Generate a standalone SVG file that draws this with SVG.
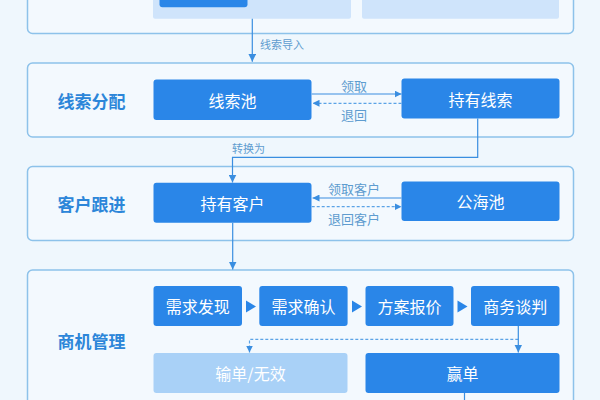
<svg xmlns="http://www.w3.org/2000/svg" width="600" height="400" viewBox="0 0 600 400">
<defs>
<marker id="ah" viewBox="0 0 8 8" refX="8" refY="4" markerWidth="8" markerHeight="8" markerUnits="userSpaceOnUse" orient="auto">
<path d="M0,0 L8,4 L0,8 Z" fill="#3A8EE0"/>
</marker>
<marker id="ahs" viewBox="0 0 8 8" refX="8" refY="4" markerWidth="7" markerHeight="7" markerUnits="userSpaceOnUse" orient="auto">
<path d="M0,0 L8,4 L0,8 Z" fill="#3A8EE0"/>
</marker>
<style>
.sec{fill:#F3F9FE;stroke:#8DC2EA;stroke-width:1.5}
.box{fill:#2A86E8}
.lite{fill:#CFE4FB}
.lose{fill:#A9D1F7}
.t{font-family:"Noto Sans CJK SC","Noto Sans",sans-serif;font-size:16px;fill:#FFFFFF;text-anchor:middle;dominant-baseline:central}
.title{font-family:"Noto Sans CJK SC","Noto Sans",sans-serif;font-size:17px;font-weight:bold;fill:#2C86D9;text-anchor:middle;dominant-baseline:central}
.lbl{font-family:"Noto Sans CJK SC","Noto Sans",sans-serif;font-size:11px;fill:#5E9CCF;text-anchor:middle;dominant-baseline:central}
.lbl2{font-family:"Noto Sans CJK SC","Noto Sans",sans-serif;font-size:13px;fill:#5E9CCF;text-anchor:middle;dominant-baseline:central}
.c{fill:none;stroke:#3A8EE0;stroke-width:1.2}
.d{fill:none;stroke:#5BA3E6;stroke-width:1.2;stroke-dasharray:3 2}
.tri{fill:#2A86E8}
</style>
</defs>
<rect width="600" height="400" fill="#EFF7FD"/>

<g id="top-section">
<rect class="sec" x="27.5" y="-20" width="546" height="53.5" rx="5"/>
<rect class="lite" x="153" y="-10" width="198" height="28.7" rx="2"/>
<rect class="lite" x="362" y="-10" width="197" height="28.7" rx="2"/>
<rect class="box" x="159.5" y="-10" width="88" height="17.3" rx="3"/>
</g>

<g id="sec-clue">
<rect class="sec" x="27.5" y="63" width="546" height="74" rx="5"/>
<text class="title" x="91.5" y="100">线索分配</text>
</g>
<g id="sec-customer">
<rect class="sec" x="27.5" y="166.5" width="546" height="74" rx="5"/>
<text class="title" x="91.5" y="203">客户跟进</text>
</g>
<g id="sec-opportunity">
<rect class="sec" x="27.5" y="270" width="546" height="150" rx="5"/>
<text class="title" x="91.5" y="340">商机管理</text>
</g>

<g id="n-xiansuochi"><rect class="box" x="153.5" y="79.5" width="158" height="40.5" rx="3"/><text class="t" x="232.5" y="100">线索池</text></g>
<g id="n-chiyouxiansuo"><rect class="box" x="401.5" y="78.5" width="158" height="40" rx="3"/><text class="t" x="480.5" y="98.5">持有线索</text></g>
<g id="n-chiyoukehu"><rect class="box" x="153.5" y="182.7" width="158" height="40" rx="3"/><text class="t" x="232.5" y="202.7">持有客户</text></g>
<g id="n-gonghaichi"><rect class="box" x="401.5" y="181.5" width="158" height="39.5" rx="3"/><text class="t" x="480.5" y="201.2">公海池</text></g>

<g id="n-xuqiufaxian"><rect class="box" x="153.5" y="286" width="88.5" height="40" rx="3"/><text class="t" x="197.7" y="306">需求发现</text></g>
<g id="n-xuqiuqueren"><rect class="box" x="259.3" y="286" width="88.3" height="40" rx="3"/><text class="t" x="303.5" y="306">需求确认</text></g>
<g id="n-fanganbaojia"><rect class="box" x="365.5" y="286" width="88" height="40" rx="3"/><text class="t" x="409.5" y="306">方案报价</text></g>
<g id="n-shangwutanpan"><rect class="box" x="471" y="286" width="88.5" height="40" rx="3"/><text class="t" x="515.2" y="306">商务谈判</text></g>
<g id="n-shudan"><rect class="lose" x="153.5" y="353" width="194" height="40" rx="3"/><text class="t" x="250.5" y="373">输单/无效</text></g>
<g id="n-yingdan"><rect class="box" x="365.5" y="353" width="194" height="40" rx="3"/><text class="t" x="462.5" y="373">赢单</text></g>

<g id="connectors">
<path class="c" d="M252.3,18.7 V61.7" marker-end="url(#ah)"/>
<text class="lbl" x="282" y="44">线索导入</text>

<path class="c" d="M311.7,94 H401.5" marker-end="url(#ahs)"/>
<text class="lbl2" x="354" y="85">领取</text>
<path class="d" d="M401.5,103.3 H312.5" marker-end="url(#ahs)"/>
<text class="lbl2" x="354" y="114">退回</text>

<path class="c" d="M477.7,118.5 V157.3 H232.5 V182.5" marker-end="url(#ah)"/>
<text class="lbl" x="248.5" y="148">转换为</text>

<path class="c" d="M401.5,198 H312.5" marker-end="url(#ahs)"/>
<text class="lbl2" x="354" y="188.3">领取客户</text>
<path class="d" d="M311.7,206.7 H401.5" marker-end="url(#ahs)"/>
<text class="lbl2" x="354" y="218.3">退回客户</text>

<path class="c" d="M232.7,222.7 V269.5" marker-end="url(#ah)"/>

<path class="tri" d="M246,300.5 L256,306.5 L246,312.5 Z"/>
<path class="tri" d="M352,300.5 L362,306.5 L352,312.5 Z"/>
<path class="tri" d="M457.5,300.5 L467.5,306.5 L457.5,312.5 Z"/>

<path class="d" d="M518.3,339.3 H249.5 V352.5" marker-end="url(#ahs)"/>
<path class="c" d="M518.3,326 V352.5" marker-end="url(#ah)"/>

<path class="c" d="M464.5,393 V400"/>
</g>
</svg>
